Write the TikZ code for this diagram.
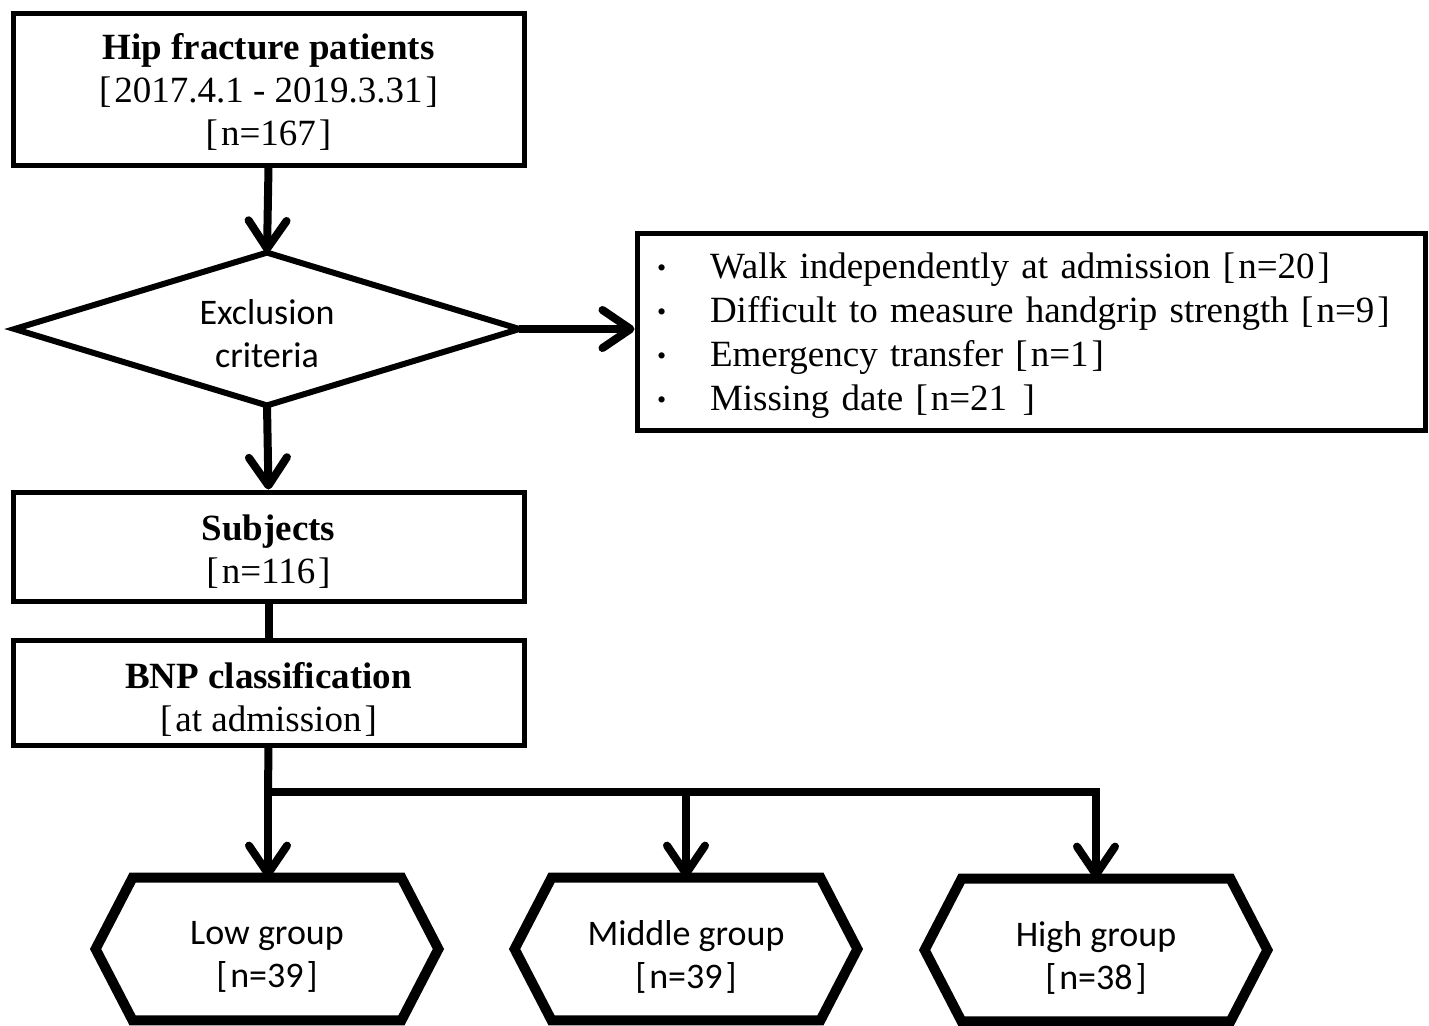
\documentclass[tikz,border=0pt]{standalone}
\usepackage{fontspec}
\setmainfont{Liberation Serif}
\setsansfont{Carlito}
\usetikzlibrary{arrows.meta}
\newcommand{\lbr}{{[}\kern1.5pt}
\newcommand{\rbr}{\kern1.5pt{]}}
\newcommand{\bul}{\makebox[26.5pt][l]{\raisebox{1pt}{\fontsize{13}{13}\selectfont\textbullet}}}
\begin{document}
\begin{tikzpicture}[x=0.5pt,y=-0.5pt,
  box/.style={draw, line width=2.5pt, minimum width=255.5pt, inner sep=0pt},
  boxtext/.style={inner sep=0pt, align=center, font=\fontsize{18.5}{21.5}\selectfont},
  sanstext/.style={inner sep=0pt, align=center, font=\sffamily\fontsize{18}{21.5}\selectfont},
  arr/.style={line width=4pt, line join=miter, -{Straight Barb[length=14pt,width=19pt,round]}},
  link/.style={line width=4pt},
  shapeline/.style={line width=3pt, line join=miter},
  hexnode/.style={minimum width=171pt, minimum height=71pt, inner sep=0pt},
  hexline/.style={line width=5pt, line join=miter},
]
\useasboundingbox (0,0) rectangle (1429,1025);

% top box
\node[box, minimum height=76pt] (top) at (268.5,89) {};
\node[boxtext] (toptext) at ([yshift=-1.25pt]top.center)
  {\textbf{Hip fracture patients}\\\lbr 2017.4.1 - 2019.3.31\rbr\\\lbr n=167\rbr};

% decision diamond
\node[minimum width=252pt, minimum height=76pt, inner sep=0pt] (excl) at (267,329) {};
\draw[shapeline] (excl.west) -- (excl.north) -- (excl.east) -- (excl.south) -- cycle;
\node[sanstext] (excltext) at ([yshift=-2.25pt]excl.center) {Exclusion\\criteria};

% exclusion list
\node[draw, line width=2.5pt, minimum width=394pt, minimum height=98.5pt, inner sep=0pt] (exbox) at (1031,331.5) {};
\node[inner xsep=0pt, inner ysep=0pt, text width=374pt, align=left, font=\fontsize{18.5}{22}\selectfont]
  (extext) at ([yshift=-2.25pt]exbox.center)
  {\bul Walk independently at admission \lbr n=20\rbr\\
   \bul Difficult to measure handgrip strength \lbr n=9\rbr\\
   \bul Emergency transfer \lbr n=1\rbr\\
   \bul Missing date \lbr n=21 \rbr};

% subjects and BNP
\node[box, minimum height=54.5pt] (subj) at (268.5,546.5) {};
\node[boxtext] (subjtext) at ([yshift=-2.75pt]subj.center) {\textbf{Subjects}\\\lbr n=116\rbr};
\node[box, minimum height=52.5pt] (bnp) at (268.5,692.5) {};
\node[boxtext] (bnptext) at ([yshift=-3.25pt]bnp.center) {\textbf{BNP classification}\\\lbr at admission\rbr};

% hexagons
\node[hexnode] (low) at (267,949) {};
\node[hexnode] (mid) at (686,949) {};
\node[hexnode] (high) at (1096,950) {};
\foreach \h in {low,mid,high}{
  \draw[hexline] (\h.west) -- ([xshift=18.5pt]\h.north west) -- ([xshift=-18.5pt]\h.north east)
    -- (\h.east) -- ([xshift=-18.5pt]\h.south east) -- ([xshift=18.5pt]\h.south west) -- cycle;
}
\node[sanstext] (lowtext) at ([yshift=-4pt]low.center) {Low group\\\lbr n=39\rbr};
\node[sanstext] (midtext) at ([yshift=-4pt]mid.center) {Middle group\\\lbr n=39\rbr};
\node[sanstext] (hightext) at ([yshift=-4pt]high.center) {High group\\\lbr n=38\rbr};

% connectors
\draw[arr] (top.south) -- (excl.north);
\draw[arr] (excl.east) -- (excl.east -| exbox.west);
\draw[arr] (excl.south) -- (subj.north);
\draw[link] (subj.south) -- (bnp.north);
\coordinate (j) at (268,792);
\draw[link] (bnp.south) -- (j);
\draw[arr] (j) -- (j |- low.north);
\draw[arr] (j) -| (high.north);
\draw[arr] (j -| mid.north) -- (mid.north);
\end{tikzpicture}
\end{document}
